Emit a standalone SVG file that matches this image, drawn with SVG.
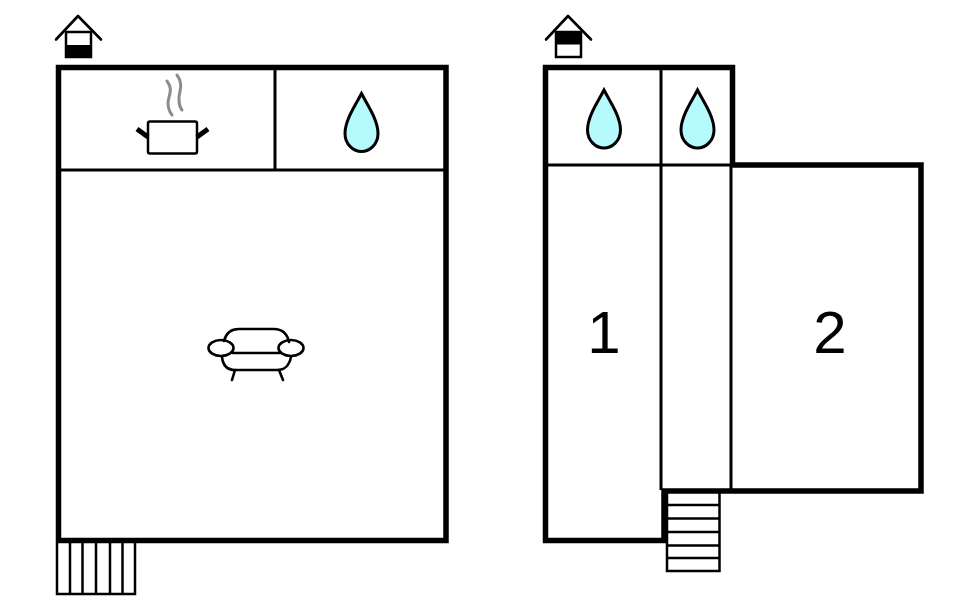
<svg xmlns="http://www.w3.org/2000/svg" width="960" height="606" viewBox="0 0 960 606">
<style>
.wall{fill:none;stroke:#000;stroke-width:5.5;stroke-linejoin:miter}
.thin{fill:none;stroke:#000;stroke-width:3}
.step{fill:none;stroke:#000;stroke-width:2.5}
.drop{fill:#b5fafc;stroke:#000;stroke-width:3}
.icon{fill:none;stroke:#000;stroke-width:2.6;stroke-linecap:round;stroke-linejoin:round}
.steam{fill:none;stroke:#8c8c8c;stroke-width:3;stroke-linecap:round}
.num{font-family:"Liberation Sans",Arial,sans-serif;font-size:60px;fill:#000;text-anchor:middle}
</style>
<defs>
<path id="drop" class="drop" d="M0 -29C5 -19 16.500 -3 16.500 11C16.500 22 8 29 0 29C-8 29 -16.500 22 -16.500 11C-16.500 -3 -5 -19 0 -29Z"/>
</defs>
<rect width="960" height="606" fill="#fff"/>
<g id="left-floor">
<rect class="wall" x="58.500" y="67.500" width="387.500" height="473"/>
<path class="thin" d="M59 170H446M275 68V170"/>
</g>
<g id="left-stairs">
<path class="step" d="M57 543V594H135V543M70 543V594M82.500 543V594M96 543V594M110 543V594M122.500 543V594"/>
</g>
<g id="left-house">
<rect x="66" y="32" width="25" height="25" fill="#fff" stroke="#000" stroke-width="2.500"/>
<rect x="65" y="45" width="27" height="12.500" fill="#000"/>
<path class="icon" d="M56 39.500L78 16L101 39.500"/>
</g>
<g id="pot">
<rect x="148" y="121.500" width="49" height="32" rx="2" fill="#fff" stroke="#000" stroke-width="2.500"/>
<path d="M148 137L137 129M197 137L208 129" fill="none" stroke="#000" stroke-width="5"/>
<path class="steam" d="M167 81C174 90 168 96 168 103C168 108 169 111 172 115"/>
<path class="steam" d="M177 75C184 84 179 92 179 98C179 103 179 106 182 110"/>
</g>
<g id="left-drop"><use href="#drop" x="361.500" y="122.500"/></g>
<g id="sofa">
<path class="icon" d="M224 341C226 333 231 329 239 329H274C281 329 287 333 289 342"/>
<path class="icon" d="M233 353H280"/>
<path class="icon" d="M222 357C223 366 227 370 235 370H277C285 370 289 366 291 357"/>
<ellipse cx="221" cy="348" rx="12.500" ry="8" fill="none" stroke="#000" stroke-width="2.600"/>
<ellipse cx="291" cy="348" rx="12.500" ry="8" fill="none" stroke="#000" stroke-width="2.600"/>
<path class="icon" d="M235 370L232 380M279 370L283 380"/>
</g>
<g id="right-floor">
<path class="wall" d="M545.500 67.500H732.500V165H921V491H664V540.500H545.500Z"/>
<path class="thin" d="M546 165H732M661 68V490M731 165V490"/>
</g>
<g id="right-stairs">
<path class="step" d="M667 492V571H719.500V492M667 505H719.500M667 518.500H719.500M667 532H719.500M667 545.500H719.500M667 558H719.500"/>
</g>
<g id="right-house">
<rect x="556" y="32" width="25" height="25" fill="#fff" stroke="#000" stroke-width="2.500"/>
<rect x="555" y="32" width="27" height="12.500" fill="#000"/>
<path class="icon" d="M546 39.500L568 16L591 39.500"/>
</g>
<g id="right-drop-1"><use href="#drop" x="604" y="119"/></g>
<g id="right-drop-2"><use href="#drop" x="697.500" y="119"/></g>
<g id="room-1"><text class="num" x="604" y="353">1</text></g>
<g id="room-2"><text class="num" x="830" y="353">2</text></g>
</svg>
